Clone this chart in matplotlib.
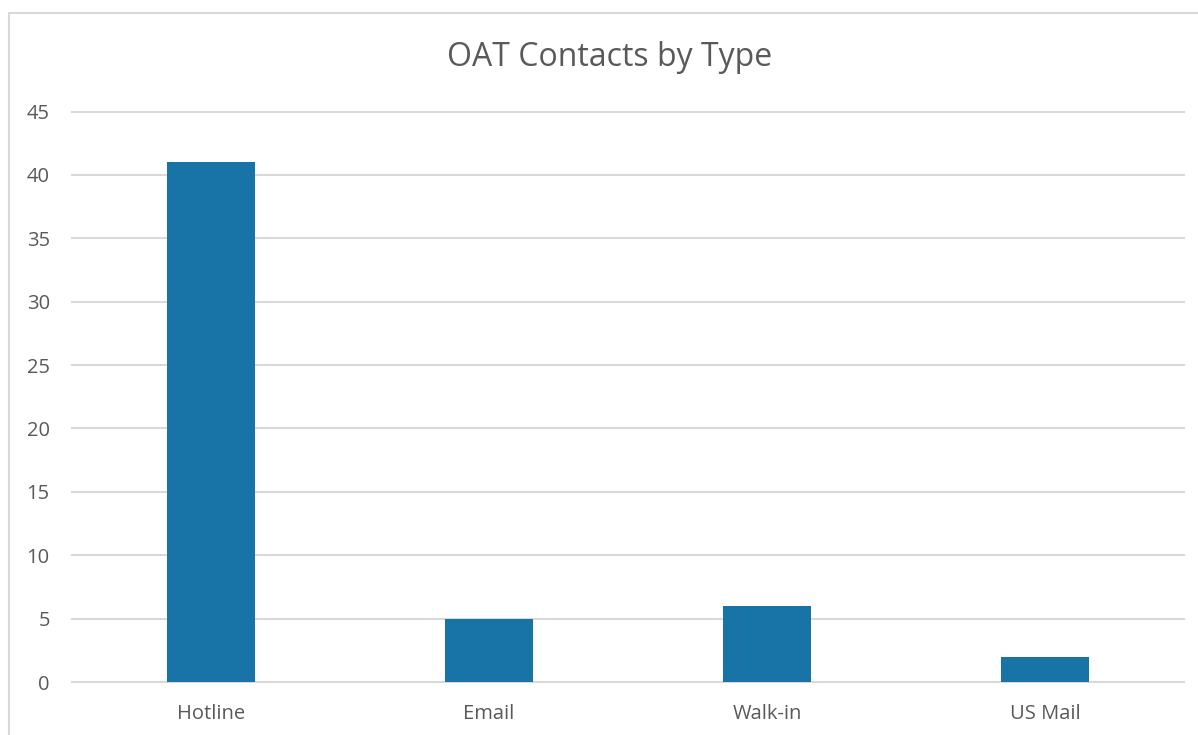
import matplotlib
matplotlib.use("Agg")
import matplotlib.pyplot as plt
from matplotlib.patches import Rectangle

categories = ["Hotline", "Email", "Walk-in", "US Mail"]
values = [41, 5, 6, 2]
yticks = [0, 5, 10, 15, 20, 25, 30, 35, 40, 45]

W, H = 1198, 735
fig = plt.figure(figsize=(W / 100, H / 100), dpi=100)
plt.rcParams['font.family'] = ['Open Sans', 'DejaVu Sans']

ax = fig.add_axes([72 / W, 1 - 682 / H, (1184 - 72) / W, (682 - 111.5) / H])
x = list(range(len(categories)))
ax.bar(x, values, width=0.313, color="#1874A6", zorder=3)
ax.set_xlim(-0.5, len(categories) - 0.5)
ax.set_ylim(0, 45)
ax.set_yticks(yticks)
ax.set_xticks(x)
ax.set_xticklabels(categories)
ax.grid(axis="y", color="#D9D9D9", linewidth=1.5, zorder=0)
for gl in ax.get_ygridlines():
    gl.set_clip_on(False)
for s in ax.spines.values():
    s.set_visible(False)
ax.tick_params(axis="both", length=0, labelsize=14.5, colors="#595959")
ax.tick_params(axis="y", pad=16)
ax.tick_params(axis="x", pad=16)

fig.text(610 / W, 1 - 57 / H, "OAT Contacts by Type", ha="center", va="center",
         fontsize=23, color="#595959")

fig.patches.append(Rectangle((8.5 / W, -0.1), 1.2, 1 - 12.5 / H + 0.1,
                             transform=fig.transFigure, fill=False,
                             edgecolor="#D9D9D9", linewidth=1.5))

fig.savefig("out.png", dpi=100, facecolor="white")
